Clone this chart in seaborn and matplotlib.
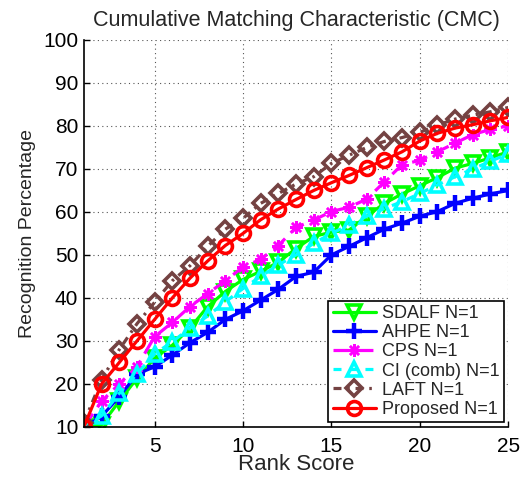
import matplotlib
matplotlib.use("Agg")
import matplotlib.pyplot as plt
import seaborn as sns
import pandas as pd

ranks = list(range(1, 26))
sdalf = [10, 10.5, 16, 21.3, 26, 29, 33, 38, 41.5, 44.3, 46.2, 48.3, 51.5, 54.3, 55.3, 55.8, 59, 62, 64.2, 66.1, 68, 70.2, 71.3, 72.6, 74]
ahpe = [10, 12.5, 17, 22.3, 24, 26.7, 29.6, 32, 35, 37, 39.5, 42, 45, 46, 50, 52, 54, 56, 57.4, 59, 60.1, 62, 63.2, 64.2, 65]
cps = [10, 16, 20, 24, 31, 34.3, 38, 41, 44, 47.2, 49, 52.2, 56.4, 58.1, 60.1, 61.1, 63, 67, 71, 72, 74, 76, 78, 79.2, 80]
ci = [10, 12.6, 17.8, 22.3, 27, 29.8, 33, 35.8, 39.1, 42.2, 45, 47.7, 50, 52.7, 55, 57, 59, 60.8, 62.4, 64.3, 66.3, 68.2, 70, 71.8, 73.5]
laft = [11, 21, 28, 34, 39, 44, 47.5, 52, 56, 58.5, 62, 64.3, 66.5, 68.2, 71.3, 73.2, 75, 76.4, 77.3, 78.5, 80.2, 81.6, 82.5, 83.3, 84.3]
proposed = [10, 20, 25, 30, 35, 40, 44.6, 48.6, 52.2, 55, 58.2, 60.7, 62.9, 65, 66.8, 68.5, 70.3, 72.1, 74, 76.5, 78.3, 79.5, 80.3, 81.2, 82]

labels = ["SDALF N=1", "AHPE N=1", "CPS N=1", "CI (comb) N=1", "LAFT N=1", "Proposed N=1"]
series = [sdalf, ahpe, cps, ci, laft, proposed]
colors = ["#00ff00", "#0000ff", "#ff00ff", "#00ffff", "#744242", "#ff0000"]
markers = ["v", "+", (8, 2, 0), "^", "D", "o"]
styles = ["-", "-", (0, (5, 2.5)), (0, (2.5, 2.5)), (0, (2.5, 1.8, 0.8, 1.8)), "-"]
msizes = [10, 11, 9, 10, 8, 10]
mews = [2.6, 3.2, 1.8, 2.6, 2.6, 2.6]
hollow = [True, False, False, True, True, True]

sns.set_style("white")
plt.rcParams['font.family'] = ['Liberation Sans', 'DejaVu Sans']

fig = plt.figure(figsize=(5.31, 4.79), dpi=100)
ax = fig.add_axes([0.158, 0.1086, 0.799, 0.808])

handles = []
for lab, vals, c, m, ls, ms, mw, ho in zip(labels, series, colors, markers, styles, msizes, mews, hollow):
    df = pd.DataFrame({"rank": ranks, "val": vals})
    n0 = len(ax.lines)
    sns.lineplot(data=df, x="rank", y="val", ax=ax, color=c)
    line = ax.lines[n0]
    line.set_color(c)
    line.set_linewidth(2.3)
    line.set_linestyle(ls)
    line.set_marker(m)
    line.set_markersize(ms)
    line.set_markeredgecolor(c)
    line.set_markerfacecolor("none" if ho else c)
    line.set_markeredgewidth(mw)
    handles.append(line)

ax.set_xlim(1, 25)
ax.set_ylim(10, 100)
ax.set_xticks([5, 10, 15, 20, 25])
ax.set_yticks(list(range(10, 101, 10)))
ax.tick_params(axis="both", direction="in", length=4, width=1, labelsize=15,
               colors="black", left=True, bottom=True)
ax.tick_params(axis="x", pad=7)
ax.tick_params(axis="y", pad=4)
ax.grid(True, linestyle=(0, (1, 3)), color="#555555", linewidth=0.8)
for s in ["top", "right"]:
    ax.spines[s].set_visible(False)
for s in ["left", "bottom"]:
    ax.spines[s].set_color("black")
    ax.spines[s].set_linewidth(1.2)

ax.set_xlabel("Rank Score", fontsize=16, labelpad=-1)
ax.set_ylabel("Recognition Percentage", fontsize=14, labelpad=5)
ax.set_title("Cumulative Matching Characteristic (CMC)", fontsize=15.5, pad=10)

leg = ax.legend(handles, labels, loc="lower right", fontsize=13, frameon=True, fancybox=False,
                handlelength=2.4, handletextpad=0.3, borderpad=0.25,
                labelspacing=0.12, borderaxespad=0.25)
leg.get_frame().set_edgecolor("black")
leg.get_frame().set_linewidth(1.2)
leg.get_frame().set_alpha(1)

fig.savefig("out.png", dpi=100)
